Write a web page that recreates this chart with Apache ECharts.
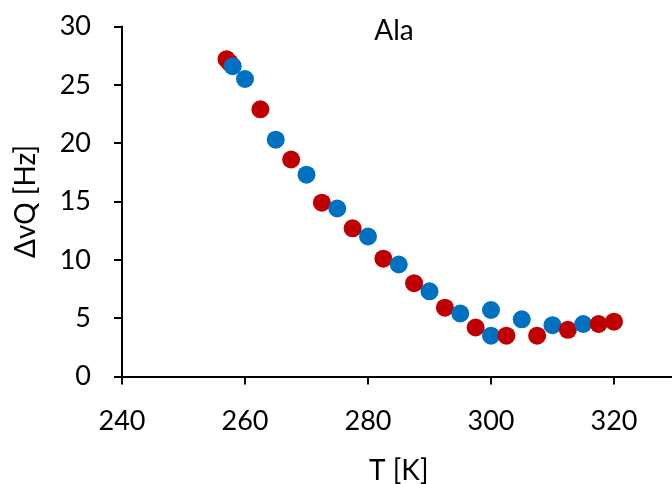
<!DOCTYPE html>
<html>
<head>
<meta charset="utf-8">
<script src="https://cdn.jsdelivr.net/npm/echarts@6/dist/echarts.min.js"></script>
<style>html,body{margin:0;padding:0;background:#fff;}#c{width:672px;height:484px;}</style>
</head>
<body>
<div id="c"></div>
<script>
const titleText = 'Ala';
const xName = 'T [K]';
const yName = 'ΔvQ [Hz]';
const blueT = [258, 260, 265, 270, 275, 280, 285, 290, 295, 300, 300, 305, 310, 315];
const blueQ = [26.6, 25.5, 20.3, 17.3, 14.4, 12.0, 9.6, 7.3, 5.4, 5.7, 3.5, 4.9, 4.4, 4.5];
const redT = [257, 257.5, 262.5, 267.5, 272.5, 277.5, 282.5, 287.5, 292.5, 297.5, 302.5, 307.5, 312.5, 317.5, 320];
const redQ = [27.2, 26.9, 22.9, 18.6, 14.9, 12.7, 10.1, 8.0, 5.9, 4.2, 3.5, 3.5, 4.0, 4.5, 4.7];
const xTicks = [240, 260, 280, 300, 320];
const yTicks = [0, 5, 10, 15, 20, 25, 30];

const BLUE = '#0070C0', RED = '#C00000';
const pts = [];
blueT.forEach((t, i) => pts.push({ value: [t, blueQ[i]], itemStyle: { color: BLUE, opacity: 1 } }));
redT.forEach((t, i) => pts.push({ value: [t, redQ[i]], itemStyle: { color: RED, opacity: 1 } }));
pts.sort((a, b) => a.value[0] - b.value[0]);

const FONT = 'Lato';
const chart = echarts.init(document.getElementById('c'), null, { renderer: 'canvas' });
chart.setOption({
  animation: false,
  backgroundColor: '#fff',
  textStyle: { fontFamily: FONT },
  title: {
    text: titleText, left: 389, top: 12, textAlign: 'center',
    textStyle: { fontFamily: FONT, fontSize: 28, fontWeight: 'normal', color: '#000' }
  },
  grid: { left: 122, right: -3.5, top: 26.5, bottom: 107.5, outerBoundsMode: 'none', containLabel: false },
  xAxis: {
    type: 'value', min: xTicks[0], max: 330, interval: 20,
    name: xName, nameLocation: 'middle', nameGap: 80,
    nameTextStyle: { fontFamily: FONT, fontSize: 28, color: '#000' },
    axisLine: { lineStyle: { color: '#000', width: 2 } },
    axisTick: { show: true, length: 8, lineStyle: { color: '#000', width: 2 } },
    axisLabel: { fontFamily: FONT, fontSize: 27, color: '#000', margin: 31, showMaxLabel: false },
    splitLine: { show: false }
  },
  yAxis: {
    type: 'value', min: yTicks[0], max: yTicks[yTicks.length - 1], interval: 5,
    name: yName, nameLocation: 'middle', nameGap: 82, nameRotate: 90,
    nameTextStyle: { fontFamily: FONT, fontSize: 28, color: '#000' },
    axisLine: { show: true, lineStyle: { color: '#000', width: 2 } },
    axisTick: { show: true, length: 8, lineStyle: { color: '#000', width: 2 } },
    axisLabel: { fontFamily: FONT, fontSize: 27, color: '#000', margin: 31 },
    splitLine: { show: false }
  },
  series: [{
    type: 'scatter', symbol: 'circle', symbolSize: 18,
    itemStyle: { opacity: 1 },
    data: pts
  }]
});
</script>
</body>
</html>
